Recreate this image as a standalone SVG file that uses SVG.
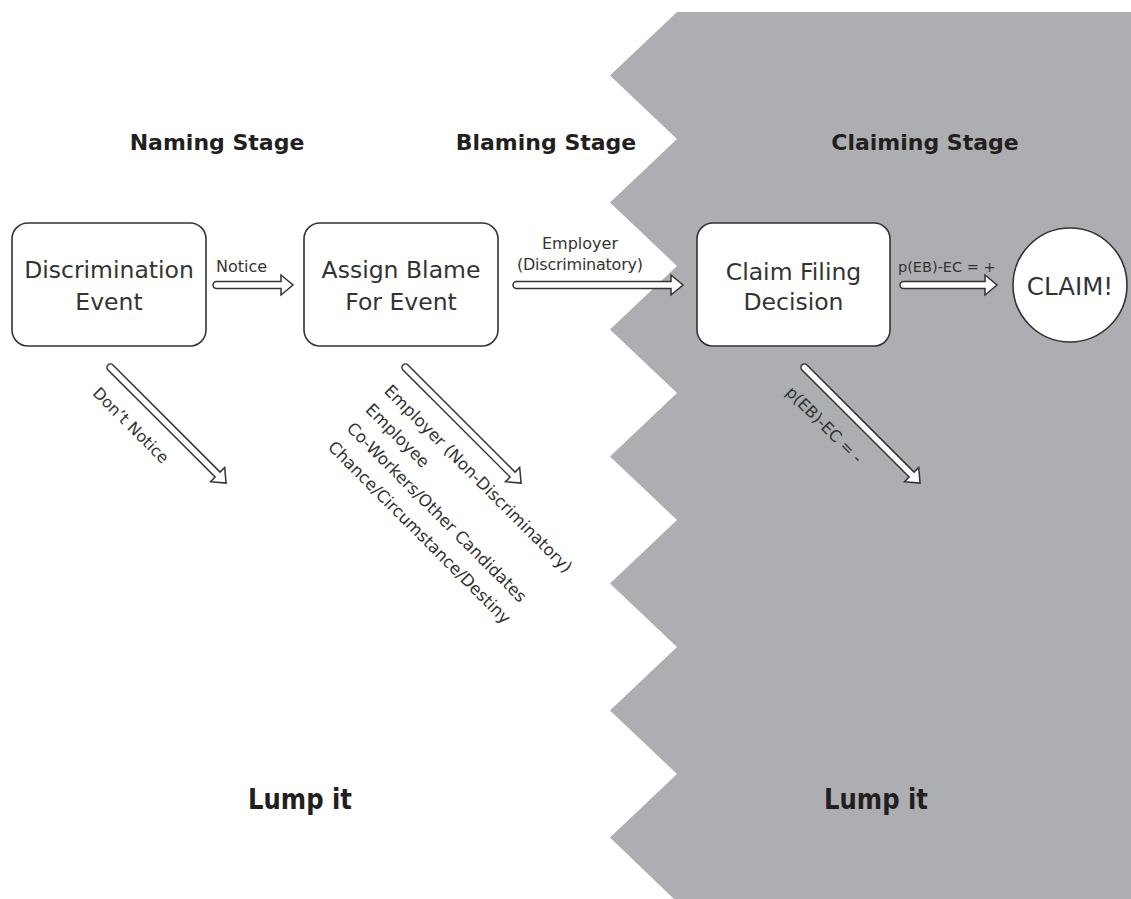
<svg xmlns="http://www.w3.org/2000/svg" width="1131" height="899" viewBox="0 0 1131 899">
<style>
.bg{fill:#adaeb1;stroke:none}
.box{fill:#fff;stroke:#333;stroke-width:1.6}
.arrow{fill:#fff;stroke:#333;stroke-width:1.5;stroke-linejoin:miter}
.node{font-family:"DejaVu Sans",sans-serif;font-size:23.5px;fill:#333;text-anchor:middle}
.lbl{font-family:"DejaVu Sans",sans-serif;font-size:16px;fill:#333}
.big{font-size:16.6px}
.title{font-family:"DejaVu Sans",sans-serif;font-weight:bold;font-size:22px;fill:#231f20;text-anchor:middle}
.lump{font-family:"DejaVu Sans",sans-serif;font-weight:bold;font-size:29px;fill:#231f20;text-anchor:middle}
</style>
<defs>
<path id="diag" d="M3.5,-3.5 H155 V-10 L167,0 L155,10 V3.5 H3.5 A3.5,3.5 0 0 1 3.5,-3.5 Z"/>
</defs>
<rect width="1131" height="899" fill="#fff"/>
<polygon class="bg" points="677,12 1131,12 1131,899 674,899 610,837.5 677,774 610,710.5 677,647 610,583.5 677,520 610,456.5 677,393 610,329.5 677,266 610,202.5 677,139 610,75.5"/>
<g id="titles">
<text class="title" x="217" y="150">Naming Stage</text>
<text class="title" x="546" y="150">Blaming Stage</text>
<text class="title" x="925" y="150">Claiming Stage</text>
<text class="lump" x="300" y="809" textLength="104" lengthAdjust="spacingAndGlyphs">Lump it</text>
<text class="lump" x="876" y="809" textLength="104" lengthAdjust="spacingAndGlyphs">Lump it</text>
</g>
<g id="connectors">
<path class="arrow" d="M216.5,281.5 H281 V275 L293,285 L281,295 V288.5 H216.5 A3.5,3.5 0 0 1 216.5,281.5 Z"/>
<text class="lbl" x="216" y="272">Notice</text>
<path class="arrow" d="M516.5,281.5 H671 V275 L683,285 L671,295 V288.5 H516.5 A3.5,3.5 0 0 1 516.5,281.5 Z"/>
<text class="lbl" x="580" y="249" text-anchor="middle">Employer</text>
<text class="lbl" x="580" y="270" text-anchor="middle" textLength="126">(Discriminatory)</text>
<path class="arrow" d="M903.5,281.5 H985 V275 L997,285 L985,295 V288.5 H903.5 A3.5,3.5 0 0 1 903.5,281.5 Z"/>
<text class="lbl" x="898" y="272" style="font-size:14.5px">p(EB)-EC = +</text>
<g transform="translate(108,365) rotate(45)">
<use href="#diag" class="arrow"/>
<text class="lbl" x="9" y="32">Don’t Notice</text>
</g>
<g transform="translate(403,365) rotate(45)">
<use href="#diag" class="arrow"/>
<text class="lbl big" x="5" y="33">Employer (Non-Discriminatory)</text>
<text class="lbl big" x="5" y="59.5">Employee</text>
<text class="lbl big" x="5" y="86">Co-Workers/Other Candidates</text>
<text class="lbl big" x="5" y="112.5">Chance/Circumstance/Destiny</text>
</g>
<g transform="translate(802,365) rotate(45)">
<use href="#diag" class="arrow"/>
<text class="lbl" x="8" y="32">p(EB)-EC = -</text>
</g>
</g>
<g id="discrimination-event">
<rect class="box" x="12" y="223" width="194" height="123" rx="16"/>
<text class="node" x="109" y="278">Discrimination</text>
<text class="node" x="109" y="310">Event</text>
</g>
<g id="assign-blame">
<rect class="box" x="304" y="223" width="194" height="123" rx="16"/>
<text class="node" x="401" y="278">Assign Blame</text>
<text class="node" x="401" y="310">For Event</text>
</g>
<g id="claim-filing">
<rect class="box" x="697" y="223" width="193" height="123" rx="16"/>
<text class="node" x="793.5" y="280">Claim Filing</text>
<text class="node" x="793.5" y="310">Decision</text>
</g>
<g id="claim">
<circle class="box" cx="1070" cy="285" r="57"/>
<text class="node" x="1070" y="295" style="font-size:24.5px">CLAIM!</text>
</g>
</svg>
